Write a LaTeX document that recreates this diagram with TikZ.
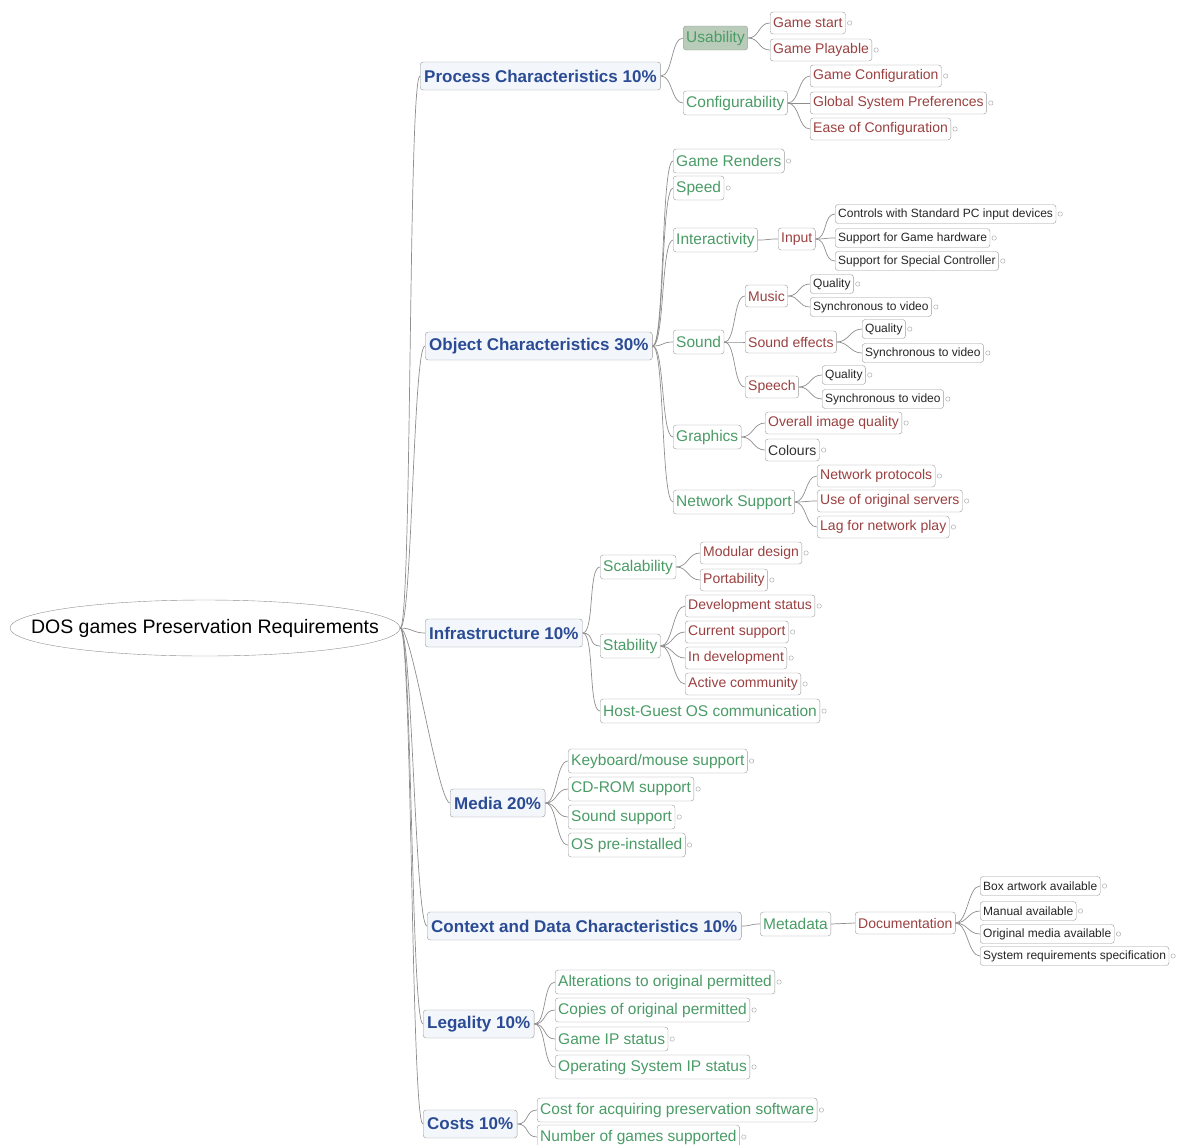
\documentclass[tikz,border=0pt]{standalone}
\usepackage{fontspec}
\setmainfont{Liberation Sans}
\usepackage{xcolor}
\usepackage{tikz}
\usetikzlibrary{shapes.geometric}

\definecolor{linegray}{HTML}{8E8E8E}
\definecolor{boxgray}{HTML}{9A9A9A}
\definecolor{topicblue}{HTML}{2B4C94}
\definecolor{topicfill}{HTML}{F3F6FB}
\definecolor{subgreen}{HTML}{4A9C66}
\definecolor{itemred}{HTML}{9B4040}
\definecolor{usefill}{HTML}{B9CCB9}

\begin{document}
\begin{tikzpicture}[
    x=1pt, y=-1pt,
    rootnode/.style={
        ellipse,
        draw=linegray,
        minimum width=390pt,
        minimum height=56pt,
        inner xsep=-60pt,
        inner ysep=0pt,
        font=\fontsize{19.5}{22}\selectfont
    },
    topicbox/.style={
        draw=boxgray,
        rounded corners=3pt,
        fill=topicfill,
        text=topicblue,
        anchor=west,
        minimum height=28pt,
        inner xsep=4pt,
        inner ysep=0pt,
        font=\bfseries\fontsize{17}{20}\selectfont
    },
    subbox/.style={
        draw=boxgray,
        rounded corners=3pt,
        fill=white,
        text=subgreen,
        anchor=west,
        minimum height=24pt,
        inner xsep=3pt,
        inner ysep=0pt,
        font=\fontsize{15.5}{18}\selectfont
    },
    itembox/.style={
        subbox,
        text=itemred,
        minimum height=22pt,
        font=\fontsize{14}{16}\selectfont
    },
    detailbox/.style={
        subbox,
        text=black!85,
        minimum height=19pt,
        font=\fontsize{12}{14}\selectfont
    },
    linkline/.style={
        draw=linegray,
        line width=0.7pt,
        out=0, in=180,
        distance=12pt
    },
    marker/.style={
        draw=boxgray!80,
        line width=0.5pt
    }
]
\useasboundingbox (0,0) rectangle (1178,1144);

% ---------------- ROOT ----------------
\node[rootnode] (dosreq) at (205,628) {DOS games Preservation Requirements};

% ---------------- PROCESS ----------------
\node[topicbox] (process) at (420,76) {Process Characteristics 10\%};
\node[subbox, fill=usefill] (usability) at (683,38) {Usability};
\node[subbox] (config) at (683,103) {Configurability};
\node[itembox] (gamestart) at (770,23) {Game start};
\node[itembox] (playable) at (770,50) {Game Playable};
\node[itembox] (gameconf) at (810,76) {Game Configuration};
\node[itembox] (globalpref) at (810,103) {Global System Preferences};
\node[itembox] (easeconf) at (810,129) {Ease of Configuration};

% ---------------- OBJECT ----------------
\node[topicbox] (object) at (425,346) {Object Characteristics 30\%};
\node[subbox] (renders) at (673,161) {Game Renders};
\node[subbox] (speed) at (673,188) {Speed};
\node[subbox] (interact) at (673,240) {Interactivity};
\node[itembox] (input) at (778,239) {Input};
\node[detailbox] (stdctrl) at (835,214) {Controls with Standard PC input devices};
\node[detailbox] (gamehw) at (835,238) {Support for Game hardware};
\node[detailbox] (specctrl) at (835,261) {Support for Special Controller};
\node[subbox] (sound) at (673,342) {Sound};
\node[itembox] (music) at (745,296) {Music};
\node[detailbox] (musicq) at (810,284) {Quality};
\node[detailbox] (musicsync) at (810,307) {Synchronous to video};
\node[itembox] (effects) at (745,342) {Sound effects};
\node[detailbox] (effectsq) at (862,329) {Quality};
\node[detailbox] (effectssync) at (862,353) {Synchronous to video};
\node[itembox] (speech) at (745,387) {Speech};
\node[detailbox] (speechq) at (822,375) {Quality};
\node[detailbox] (speechsync) at (822,399) {Synchronous to video};
\node[subbox] (graphics) at (673,437) {Graphics};
\node[itembox] (imageq) at (765,423) {Overall image quality};
\node[itembox, text=black!80] (colours) at (765,450) {Colours};
\node[subbox] (network) at (673,502) {Network Support};
\node[itembox] (netproto) at (817,476) {Network protocols};
\node[itembox] (servers) at (817,501) {Use of original servers};
\node[itembox] (netlag) at (817,527) {Lag for network play};

% ---------------- INFRASTRUCTURE ----------------
\node[topicbox] (infra) at (425,633) {Infrastructure 10\%};
\node[subbox] (scal) at (600,567) {Scalability};
\node[itembox] (modular) at (700,553) {Modular design};
\node[itembox] (portab) at (700,580) {Portability};
\node[subbox] (stab) at (600,646) {Stability};
\node[itembox] (devstatus) at (685,606) {Development status};
\node[itembox] (cursupport) at (685,632) {Current support};
\node[itembox] (indev) at (685,658) {In development};
\node[itembox] (community) at (685,684) {Active community};
\node[subbox] (hostguest) at (600,711) {Host-Guest OS communication};

% ---------------- MEDIA ----------------
\node[topicbox] (media) at (450,803) {Media 20\%};
\node[subbox] (keyboard) at (568,761) {Keyboard/mouse support};
\node[subbox] (cdrom) at (568,789) {CD-ROM support};
\node[subbox] (sndsupport) at (568,817) {Sound support};
\node[subbox] (ospre) at (568,845) {OS pre-installed};

% ---------------- CONTEXT ----------------
\node[topicbox] (context) at (427,926) {Context and Data Characteristics 10\%};
\node[subbox] (metadata) at (760,924) {Metadata};
\node[itembox] (docu) at (855,923) {Documentation};
\node[detailbox] (boxart) at (980,886) {Box artwork available};
\node[detailbox] (manual) at (980,911) {Manual available};
\node[detailbox] (origmedia) at (980,934) {Original media available};
\node[detailbox] (sysreq) at (980,956) {System requirements specification};

% ---------------- LEGALITY ----------------
\node[topicbox] (legal) at (423,1024) {Legality 10\%};
\node[subbox] (alter) at (555,982) {Alterations to original permitted};
\node[subbox] (copies) at (555,1010) {Copies of original permitted};
\node[subbox] (gameip) at (555,1039) {Game IP status};
\node[subbox] (osip) at (555,1067) {Operating System IP status};

% ---------------- COSTS ----------------
\node[topicbox] (costs) at (423,1124) {Costs 10\%};
\node[subbox] (acquire) at (537,1110) {Cost for acquiring preservation software};
\node[subbox] (numgames) at (537,1137) {Number of games supported};

% ---------------- LINKS ----------------
\draw[linkline] (dosreq.east) edge (process.west) edge (object.west) edge (infra.west)
    edge (media.west) edge (context.west) edge (legal.west) edge (costs.west);
\draw[linkline] (process.east) edge (usability.west) edge (config.west);
\draw[linkline] (usability.east) edge (gamestart.west) edge (playable.west);
\draw[linkline] (config.east) edge (gameconf.west) edge (globalpref.west) edge (easeconf.west);
\draw[linkline] (object.east) edge (renders.west) edge (speed.west) edge (interact.west)
    edge (sound.west) edge (graphics.west) edge (network.west);
\draw[linkline] (interact.east) edge (input.west);
\draw[linkline] (input.east) edge (stdctrl.west) edge (gamehw.west) edge (specctrl.west);
\draw[linkline] (sound.east) edge (music.west) edge (effects.west) edge (speech.west);
\draw[linkline] (music.east) edge (musicq.west) edge (musicsync.west);
\draw[linkline] (effects.east) edge (effectsq.west) edge (effectssync.west);
\draw[linkline] (speech.east) edge (speechq.west) edge (speechsync.west);
\draw[linkline] (graphics.east) edge (imageq.west) edge (colours.west);
\draw[linkline] (network.east) edge (netproto.west) edge (servers.west) edge (netlag.west);
\draw[linkline] (infra.east) edge (scal.west) edge (stab.west) edge (hostguest.west);
\draw[linkline] (scal.east) edge (modular.west) edge (portab.west);
\draw[linkline] (stab.east) edge (devstatus.west) edge (cursupport.west) edge (indev.west)
    edge (community.west);
\draw[linkline] (media.east) edge (keyboard.west) edge (cdrom.west) edge (sndsupport.west)
    edge (ospre.west);
\draw[linkline] (context.east) edge (metadata.west);
\draw[linkline] (metadata.east) edge (docu.west);
\draw[linkline] (docu.east) edge (boxart.west) edge (manual.west) edge (origmedia.west)
    edge (sysreq.west);
\draw[linkline] (legal.east) edge (alter.west) edge (copies.west) edge (gameip.west)
    edge (osip.west);
\draw[linkline] (costs.east) edge (acquire.west) edge (numgames.west);

% ---------------- MARKERS ----------------
\foreach \leaf in {gamestart, playable, gameconf, globalpref, easeconf, renders, speed,
    stdctrl, gamehw, specctrl, musicq, musicsync, effectsq, effectssync, speechq,
    speechsync, imageq, colours, netproto, servers, netlag, modular, portab, devstatus,
    cursupport, indev, community, hostguest, keyboard, cdrom, sndsupport, ospre, boxart,
    manual, origmedia, sysreq, alter, copies, gameip, osip, acquire, numgames}
    \draw[marker] ([xshift=4pt]\leaf.east) circle[radius=2.2pt];

\end{tikzpicture}
\end{document}
